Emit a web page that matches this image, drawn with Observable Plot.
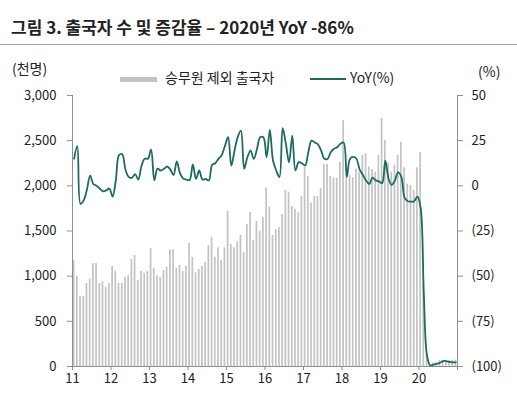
<!DOCTYPE html>
<html>
<head>
<meta charset="utf-8">
<script src="https://cdn.jsdelivr.net/npm/d3@7"></script>
<script src="https://cdn.jsdelivr.net/npm/@observablehq/plot@0.6"></script>
<style>
  body { margin: 0; background: #fff; font-family: "Noto Sans CJK KR", "Noto Sans", sans-serif; color: #222; }
  #wrap { position: relative; width: 517px; height: 398px; overflow: hidden; }
  #head { position: relative; height: 46px; }
  #title { position: absolute; left: 11px; top: 15px; font-size: 17px; font-weight: bold; line-height: 24px; white-space: nowrap; }
  #rule { position: absolute; left: 0; top: 44px; width: 517px; height: 1px; background: #a6a6a6; }
  #leg { position: absolute; left: 0; top: 46px; width: 517px; height: 42px; font-size: 14px; z-index: 2; }
  .abs { position: absolute; white-space: nowrap; line-height: 18px; }
  .sw-bar { position: absolute; width: 37px; height: 5px; background: #c3c3c3; }
  .sw-line { position: absolute; width: 36px; height: 2px; background: #1c6b60; }
  #chart svg { display: block; }
</style>
</head>
<body>
<div id="wrap">
  <div id="head"><div id="title">그림 3. 출국자 수 및 증감율 – 2020년 YoY -86%</div><div id="rule"></div></div>
  <div id="leg">
    <span class="abs" style="left:12px; top:13px;">(천명)</span>
    <span class="abs" style="left:478px; top:16px;">(%)</span>
    <div class="sw-bar" style="left:120px; top:31px;"></div>
    <span class="abs" style="left:165px; top:22px;">승무원 제외 출국자</span>
    <div class="sw-line" style="left:310px; top:32px;"></div>
    <span class="abs" style="left:350px; top:22px;">YoY(%)</span>
  </div>
  <div id="chart"></div>
</div>
<script>
// Year labels for the x axis (one per January)
const yearLabels = ["11","12","13","14","15","16","17","18","19","20"];

// Departures excluding crew, thousands of persons, monthly Jan 2011 - Dec 2020
const departures = [
  1174, 997, 775, 775, 919, 967, 1140, 1140, 919, 937, 878, 919,          // 2011
  1107, 1051, 919, 919, 989, 1004, 1185, 1229, 952, 1051, 1030, 1051,     // 2012
  1307, 1088, 1004, 985, 1063, 1100, 1292, 1292, 1088, 1122, 1051, 1107,  // 2013
  1362, 1207, 1037, 1074, 1107, 1152, 1340, 1432, 1210, 1314, 1174, 1314, // 2014
  1720, 1351, 1314, 1377, 1451, 1259, 1572, 1705, 1395, 1605, 1498, 1653, // 2015
  1978, 1764, 1451, 1513, 1535, 1683, 1949, 1930, 1772, 1739, 1701, 1883, // 2016
  2200, 2104, 1809, 1883, 1883, 1968, 2237, 2237, 2104, 2089, 2082, 2259, // 2017
  2724, 2133, 2115, 2089, 2185, 2145, 2337, 2355, 2207, 2181, 2152, 2336, // 2018
  2746, 2500, 2250, 2150, 2230, 2337, 2483, 2200, 2020, 2004, 1949, 2200, // 2019
  2366, 933, 140, 30, 40, 45, 65, 70, 60, 65, 68, 70                      // 2020
];

// YoY change, %
const yoy = [
  15, 22, -10, -8, -2, 5.7, 1, 0, -1.5, -3, -2.5, -1.5,                   // 2011
  -6, 3, 17, 17.5, 9, 5, 4.4, 6.5, 3.5, 11, 15, 15,                       // 2012
  20, 3, 9.5, 8.5, 9.4, 10.7, 9, 6, 13.5, 7, 4, 3.5,                      // 2013
  3.2, 11.8, 3.8, 8.5, 3.5, 3.8, 3, 11.5, 12.5, 15, 17, 22,               // 2014
  26.9, 11.2, 19.5, 27, 30.6, 9.4, 15.8, 19.5, 14.9, 20.4, 26.9, 26.9,    // 2015
  15.8, 31, 14, 8.5, 4.8, 31.9, 23.3, 13, 27.8, 8.5, 13.1, 12.5,          // 2016
  11.2, 18.6, 25, 24, 23, 19.5, 15, 14.9, 18.6, 20.5, 21.4, 23.3,         // 2017
  24, 5, 15, 16, 15, 9, 6, 3, 1, 4.5, 3, 2.5,                             // 2018
  1.5, 14, 4, 0.5, 3, 7.5, 5, -6.5, -8.5, -8.7, -8.5, -6,                 // 2019
  -12, -60, -94, -99.5, -99, -98.5, -98, -97, -97, -97.5, -97.7, -97.7    // 2020
];

const leftTicks = [0, 500, 1000, 1500, 2000, 2500, 3000];
const rightTicks = [-100, -75, -50, -25, 0, 25, 50];

const rows = departures.map((v, i) => ({i, value: v, yoy: yoy[i]}));
const yearStarts = d3.range(0, 121, 12);

// secondary axis: map % domain onto primary y domain
const y2 = d3.scaleLinear([-100, 50], [0, 3000]);
const axisColor = "#8f8f8f";
const teal = "#1c6b60";

const chart = Plot.plot({
  width: 517,
  height: 352,
  marginLeft: 72,
  marginRight: 60,
  marginTop: 49,
  marginBottom: 32,
  style: {fontFamily: "'Noto Sans CJK KR', 'Noto Sans', sans-serif", fontSize: "13px", color: "#222", background: "transparent"},
  x: {domain: [0, 120], axis: null},
  y: {domain: [0, 3000], axis: null},
  marks: [
    Plot.rectY(rows, {x1: "i", x2: d => d.i + 1, y: "value", fill: "#c3c3c3", insetLeft: 0.75, insetRight: 0.75}),
    Plot.line(rows, {x: d => d.i + 0.5, y: d => y2(d.yoy), stroke: teal, strokeWidth: 1.8, curve: "catmull-rom"}),
    Plot.ruleX([0], {stroke: axisColor}),
    Plot.ruleX([120], {stroke: axisColor}),
    Plot.ruleY([0], {stroke: axisColor}),
    Plot.axisY(leftTicks, {anchor: "left", tickSize: 5, tickPadding: 11, stroke: axisColor, fill: "#222", tickFormat: d3.format(","), label: null}),
    Plot.axisY(rightTicks, {anchor: "right", y: y2, tickSize: 5, tickPadding: 9, stroke: axisColor, fill: "#222", tickFormat: d => d < 0 ? `(${-d})` : `${d}`, label: null}),
    Plot.axisX(yearStarts, {anchor: "bottom", tickSize: 4, tickPadding: 3, stroke: axisColor, fill: "#222", tickFormat: i => yearLabels[i / 12] ?? "", label: null})
  ]
});
document.getElementById("chart").appendChild(chart);
</script>
</body>
</html>
